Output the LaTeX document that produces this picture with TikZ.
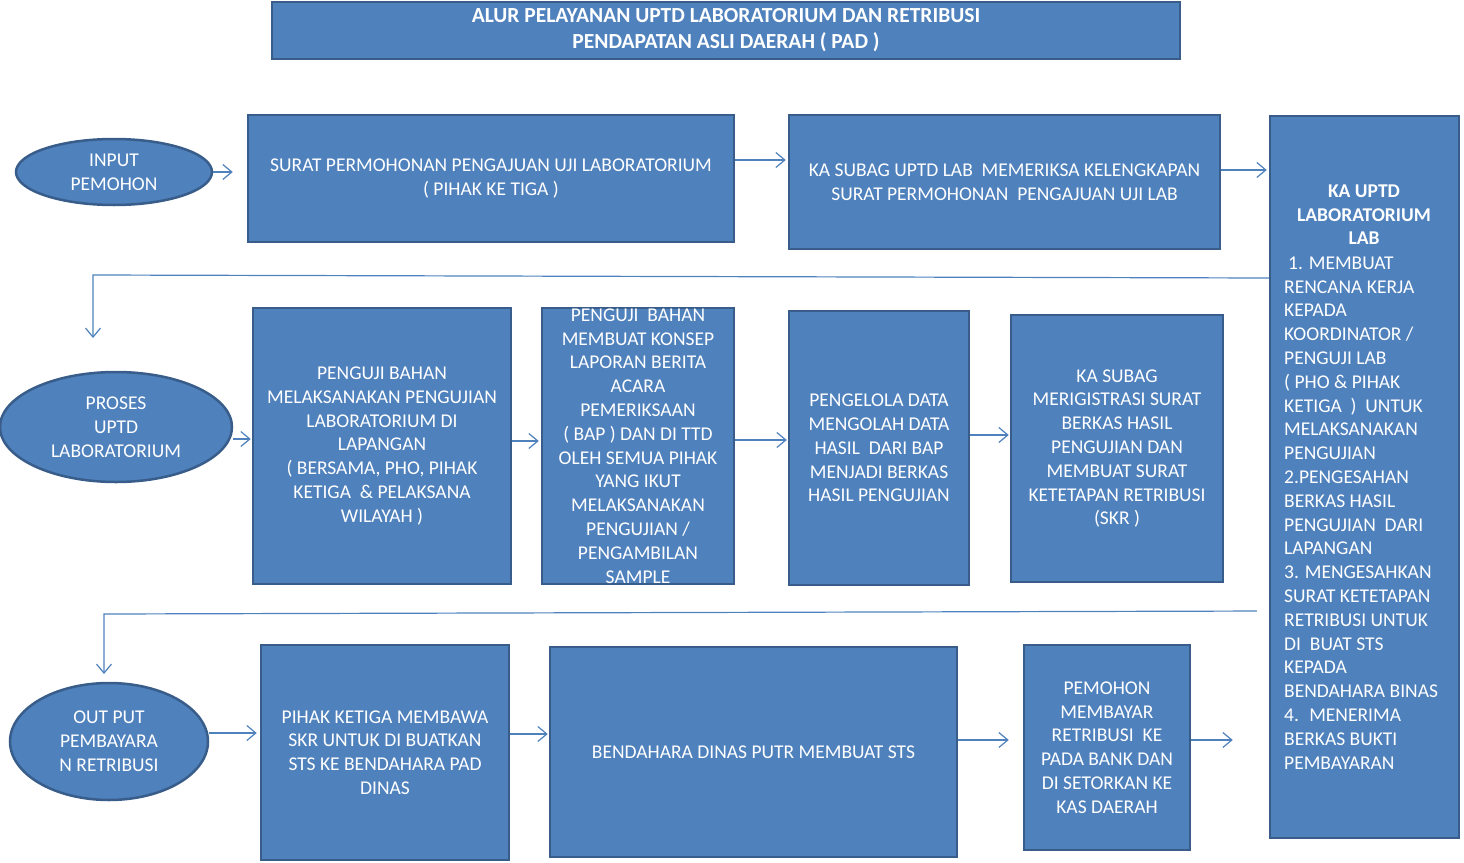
\documentclass[tikz,border=0pt]{standalone}
\usepackage{fontspec}
\setmainfont{Carlito}
\usetikzlibrary{arrows.meta,shapes.geometric}

\definecolor{flowblue}{HTML}{4F81BD}
\definecolor{flowedge}{HTML}{385D8A}

\tikzstyle{box}=[draw=flowedge,line width=2.5pt,fill=flowblue,text=white,align=center,inner sep=2pt,font=\fontsize{19.5}{23.8}\selectfont]
\tikzstyle{oval}=[box,ellipse,inner sep=0pt]
\tikzstyle{txt}=[text=white,inner sep=0pt,font=\fontsize{19.5}{23.8}\selectfont]
\tikzstyle{conn}=[draw=flowblue,line width=1.2pt,-{Straight Barb[length=9pt,width=15pt]}]

\begin{document}
\begin{tikzpicture}[x=1pt, y=-1pt]
    \useasboundingbox (0,0) rectangle (1464,862);
    % First we draw the title and the boxes
    \node[box, minimum width=908pt, minimum height=57pt, font=\fontsize{21.5}{26}\selectfont\bfseries] (title) at (726,30.5)
        {ALUR PELAYANAN UPTD LABORATORIUM DAN RETRIBUSI\\PENDAPATAN ASLI DAERAH ( PAD )};
    \node[oval, minimum width=196pt, minimum height=66pt] (input) at (114,172) {INPUT\\PEMOHON};
    \node[box, minimum width=486pt, minimum height=127pt] (surat) at (491,178.5)
        {SURAT PERMOHONAN PENGAJUAN UJI LABORATORIUM\\( PIHAK KE TIGA )};
    \node[box, minimum width=431pt, minimum height=134pt] (kasubag) at (1004.5,182)
        {KA SUBAG UPTD LAB~ MEMERIKSA KELENGKAPAN\\SURAT PERMOHONAN~ PENGAJUAN UJI LAB};
    \node[box, minimum width=189pt, minimum height=722pt] (uptd) at (1364.5,477) {};
    \node[txt, anchor=north, align=center, font=\fontsize{19.5}{23.8}\selectfont\bfseries] (uptdhead) at (1364,184.5)
        {KA UPTD\\LABORATORIUM\\LAB};
    \node[txt, anchor=north west, align=left] (uptdlist) at (1284,256.5)
        {\hspace{4pt}1. MEMBUAT\\RENCANA KERJA\\KEPADA\\KOORDINATOR /\\PENGUJI LAB\\( PHO \& PIHAK\\KETIGA~ )~ UNTUK\\MELAKSANAKAN\\PENGUJIAN\\2.PENGESAHAN\\BERKAS HASIL\\PENGUJIAN~ DARI\\LAPANGAN\\3. MENGESAHKAN\\SURAT KETETAPAN\\RETRIBUSI UNTUK\\DI~ BUAT STS\\KEPADA\\BENDAHARA BINAS\\4.~ MENERIMA\\BERKAS BUKTI\\PEMBAYARAN};

    \node[oval, minimum width=232pt, minimum height=110pt] (proses) at (116,427) {PROSES\\UPTD\\LABORATORIUM};
    \node[box, minimum width=258pt, minimum height=276pt] (uji) at (382,446)
        {PENGUJI BAHAN\\MELAKSANAKAN PENGUJIAN\\LABORATORIUM DI\\LAPANGAN\\( BERSAMA, PHO, PIHAK\\KETIGA~ \& PELAKSANA\\WILAYAH )};
    \node[box, minimum width=192pt, minimum height=276pt, inner ysep=0pt] (bap) at (638,446)
        {PENGUJI~ BAHAN\\MEMBUAT KONSEP\\LAPORAN BERITA\\ACARA\\PEMERIKSAAN\\( BAP ) DAN DI TTD\\OLEH SEMUA PIHAK\\YANG IKUT\\MELAKSANAKAN\\PENGUJIAN /\\PENGAMBILAN\\SAMPLE};
    \node[box, minimum width=180pt, minimum height=274pt] (olah) at (879,448)
        {PENGELOLA DATA\\MENGOLAH DATA\\HASIL~ DARI BAP\\MENJADI BERKAS\\HASIL PENGUJIAN};
    \node[box, minimum width=212pt, minimum height=267pt] (skr) at (1117,448.5)
        {KA SUBAG\\MERIGISTRASI SURAT\\BERKAS HASIL\\PENGUJIAN DAN\\MEMBUAT SURAT\\KETETAPAN RETRIBUSI\\(SKR )};

    \node[oval, minimum width=198pt, minimum height=117pt] (output) at (109,741.5) {OUT PUT\\PEMBAYARA\\N RETRIBUSI};
    \node[box, minimum width=248pt, minimum height=215pt] (bawa) at (385,752.5)
        {PIHAK KETIGA MEMBAWA\\SKR UNTUK DI BUATKAN\\STS KE BENDAHARA PAD\\DINAS};
    \node[box, minimum width=407pt, minimum height=210pt] (sts) at (753.5,752) {BENDAHARA DINAS PUTR MEMBUAT STS};
    \node[box, minimum width=166pt, minimum height=205pt] (bayar) at (1107,747.5)
        {PEMOHON\\MEMBAYAR\\RETRIBUSI~ KE\\PADA BANK DAN\\DI SETORKAN KE\\KAS DAERAH};

    % Connect the boxes with arrows
    \foreach \source/ \dest /\y/\gap in {input/surat/172/14, surat/kasubag/160/2, kasubag/uptd/170/2,
        proses/uji/439/1, uji/bap/441/2, bap/olah/440/1, olah/skr/435/1,
        output/bawa/733/3, bawa/sts/734/1, sts/bayar/740/14, bayar/uptd/740/36}
        \path[conn, shorten >=\gap pt] (\source.east |- 0,\y) -- (\dest.west |- 0,\y);

    % Return lines from the head of the unit
    \coordinate (turnA) at (93,275);
    \coordinate (endA) at (93,338);
    \coordinate (turnB) at (104,614);
    \coordinate (endB) at (104,674);
    \path[conn] (uptd.west |- 0,278) -- (turnA) -- (endA);
    \path[conn, shorten <=12pt] (uptd.west |- 0,611) -- (turnB) -- (endB);
\end{tikzpicture}
\end{document}
